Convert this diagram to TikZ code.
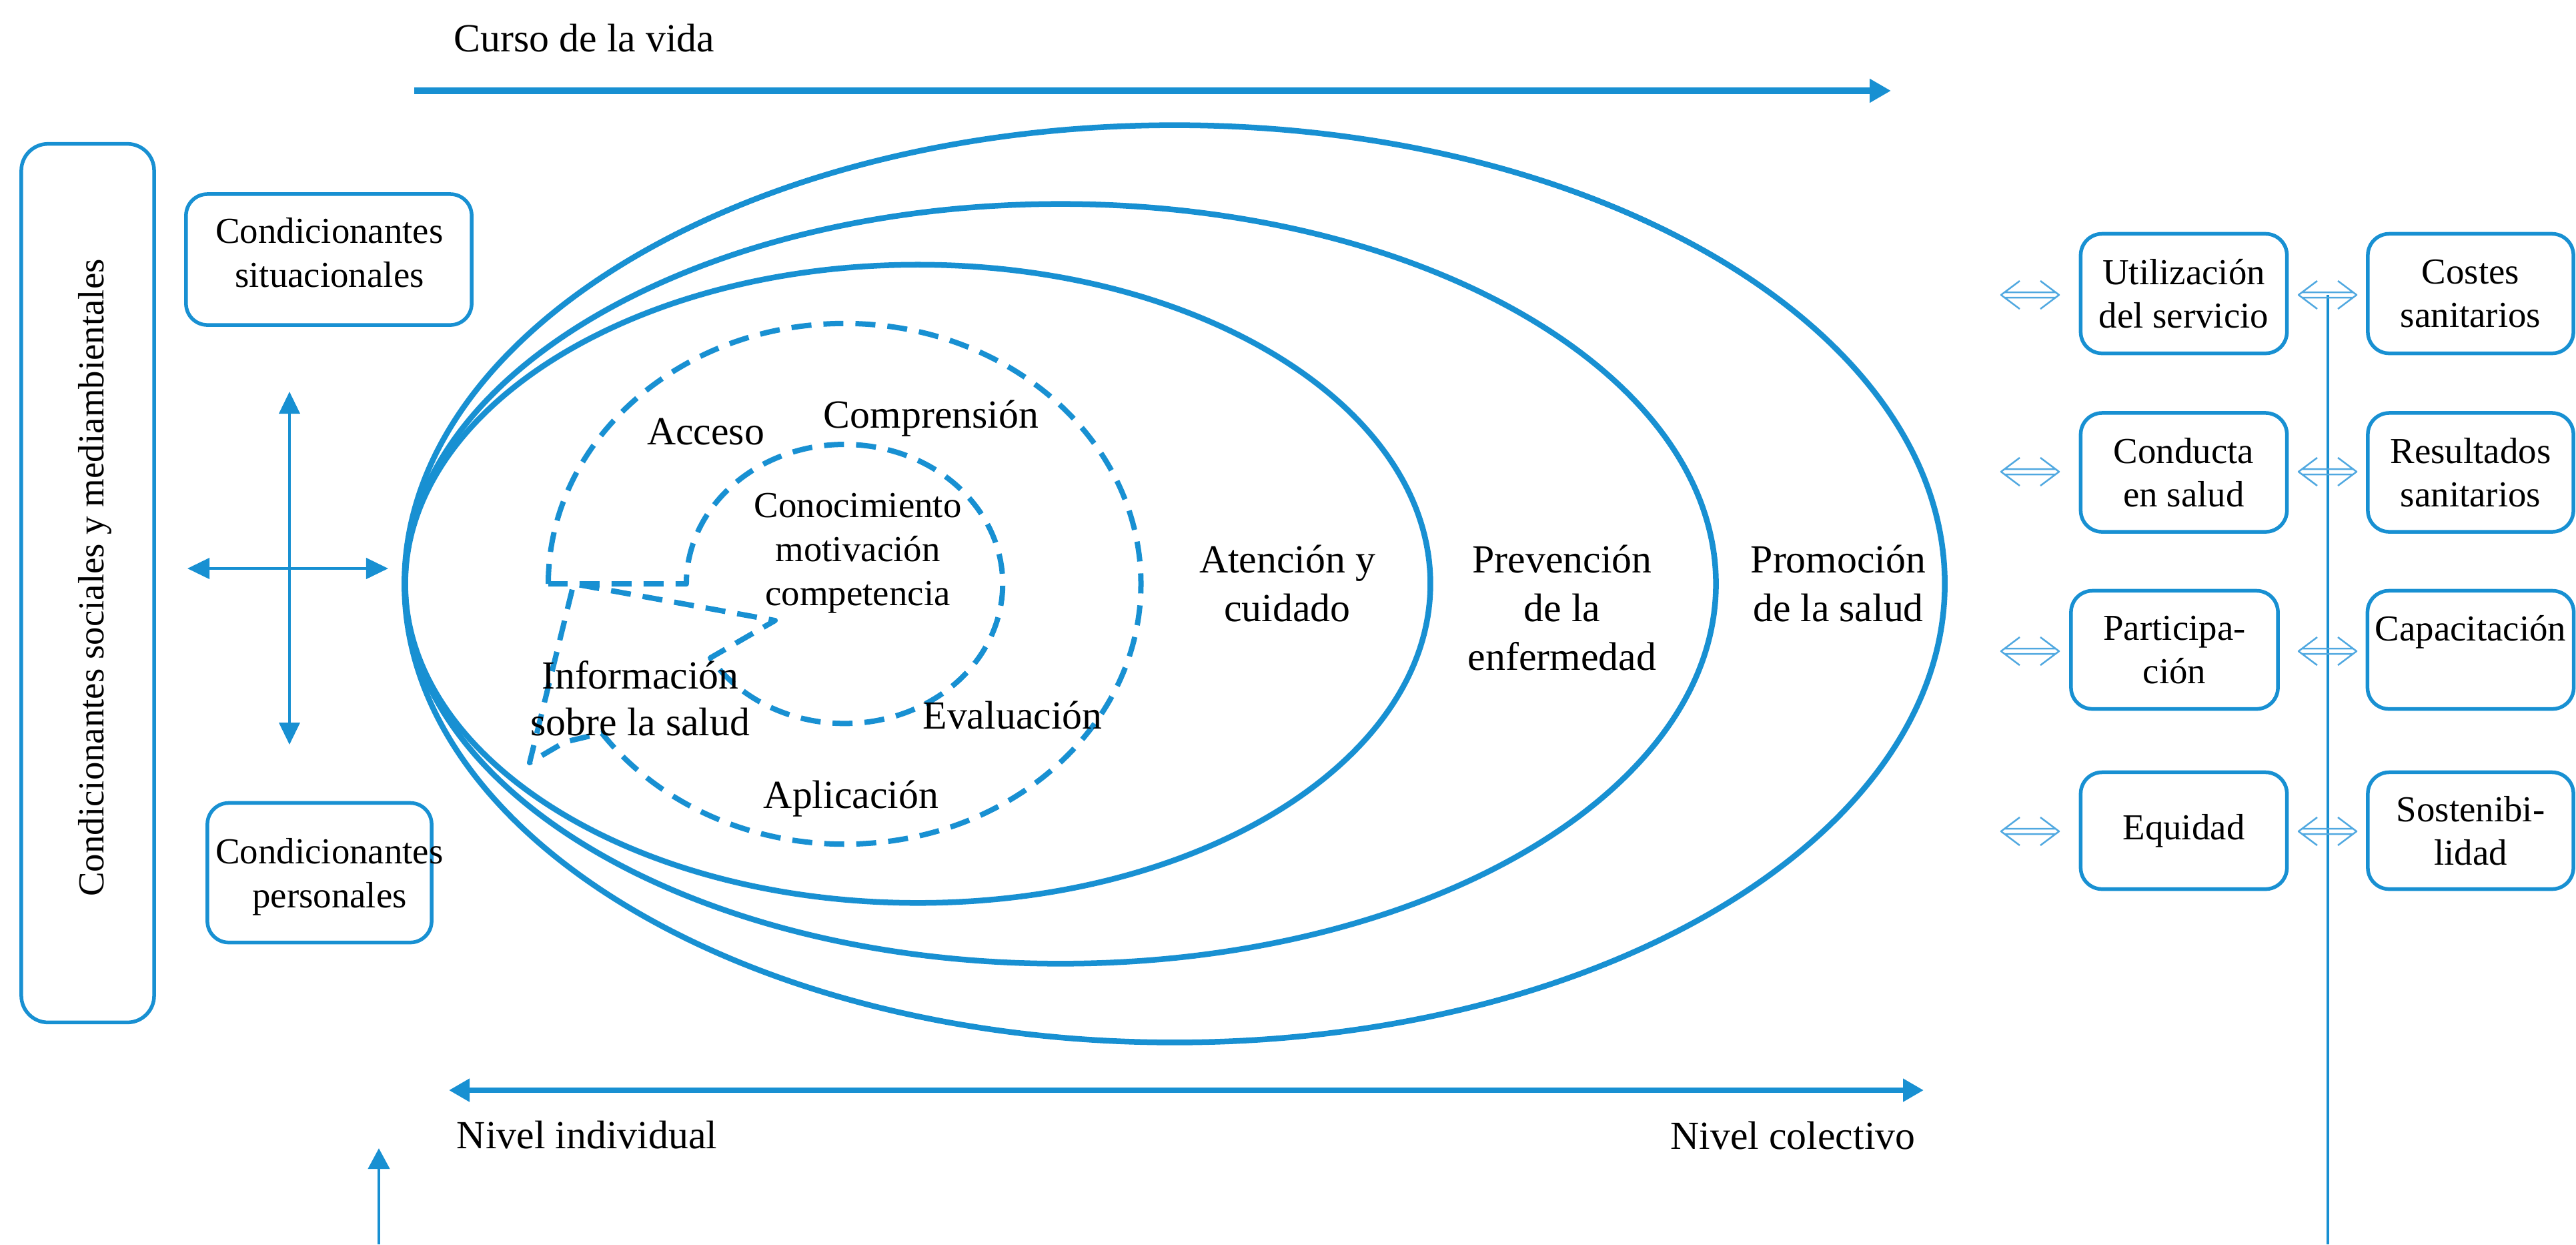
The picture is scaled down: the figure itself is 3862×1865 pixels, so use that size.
\documentclass[tikz,border=0pt]{standalone}
\usepackage{fontspec}
\setmainfont{Liberation Serif}
\usetikzlibrary{arrows.meta}
\definecolor{cblue}{RGB}{24,144,210}
\definecolor{clight}{RGB}{80,168,224}
\newcommand\fA{\fontsize{17pt}{20.8pt}\selectfont}
\newcommand\fAi{\fontsize{17pt}{19.9pt}\selectfont}
\newcommand\fB{\fontsize{15.6pt}{18.6pt}\selectfont}
\newcommand\fC{\fontsize{15.6pt}{18.8pt}\selectfont}
\tikzset{
  lbl/.style={inner sep=0pt, text=black, font=\fA},
  lblB/.style={inner sep=0pt, text=black, font=\fB},
  rbox/.style={draw=cblue, line width=0.055cm, rounded corners=0.32cm, inner sep=0pt, align=center, font=\fB, text=black},
  ell/.style={draw=cblue, line width=0.085cm},
  dsh/.style={draw=cblue, line width=0.08cm, dash pattern=on 0.3cm off 0.18cm},
  bigarr/.style={draw=cblue, line width=0.095cm, -{Triangle[length=0.32cm,width=0.34cm]}},
  bigdarr/.style={draw=cblue, line width=0.085cm, {Triangle[length=0.31cm,width=0.33cm]}-{Triangle[length=0.31cm,width=0.33cm]}},
  thinarr/.style={draw=cblue, line width=0.04cm, {Triangle[length=0.33cm,width=0.31cm]}-{Triangle[length=0.33cm,width=0.31cm]}},
  thinarrone/.style={draw=cblue, line width=0.045cm, -{Triangle[length=0.31cm,width=0.32cm]}},
  harrow/.style={draw=clight, line width=0.025cm},
  dblarr/.pic={\draw[harrow] (28,-21) -- (0,0) -- (28,21) (59,-21) -- (87,0) -- (59,21) (5,-4) -- (82,-4) (5,4) -- (82,4);}
}
\begin{document}
\begin{tikzpicture}[x=0.01cm, y=-0.01cm, line join=round]
\useasboundingbox (0,0) rectangle (3862,1865);

% left column
\node[rbox, minimum width=1.99cm, minimum height=13.16cm, rounded corners=0.4cm] (soc) at (131.5,874) {};
\node[lblB, rotate=90, anchor=base] (soct) at (156,866) {Condicionantes sociales y mediambientales};
\node[rbox, minimum width=4.28cm, minimum height=1.96cm] (sit) at (493,389) {};
\node[lblB, align=center, anchor=north] (sitt) at (494,326) {Condicionantes\\situacionales};
\node[rbox, minimum width=3.36cm, minimum height=2.09cm] (per) at (479,1308) {};
\node[lblB, align=center, anchor=north] (pert) at (494,1256) {Condicionantes\\personales};

\coordinate (cu) at (434,587);
\coordinate (cd) at (434,1116);
\coordinate (cl) at (281,852);
\coordinate (cr) at (582,852);
\draw[thinarr] (cu) -- (cd);
\draw[thinarr] (cl) -- (cr);

% top arrow
\node[lbl, anchor=base] (curso) at (876,77) {Curso de la vida};
\coordinate (ta) at (621,136);
\coordinate (tb) at (2835,136);
\draw[bigarr] (ta) -- (tb);

% bottom arrow
\coordinate (ba) at (673,1634);
\coordinate (bb) at (2884,1634);
\draw[bigdarr] (ba) -- (bb);
\node[lbl, anchor=base] (nind) at (880,1721) {Nivel individual};
\node[lbl, anchor=base] (ncol) at (2688,1722) {Nivel colectivo};

\coordinate (sa) at (568,1865);
\coordinate (sb) at (568,1721);
\draw[thinarrone] (sa) -- (sb);

% ellipses
\draw[ell] (1761,875) ellipse [x radius=11.54cm, y radius=6.87cm];
\draw[ell] (1590,875) ellipse [x radius=9.82cm, y radius=5.69cm];
\draw[ell] (1376,875) ellipse [x radius=7.68cm, y radius=4.78cm];

\node[lbl, align=center, anchor=north] (aten) at (1930,816) {Atención y\\cuidado};
\node[lbl, align=center, anchor=north] (prev) at (2342,816) {Prevención\\de la\\enfermedad};
\node[lbl, align=center, anchor=north] (prom) at (2756,816) {Promoción\\de la salud};

% dashed spiral
\draw[dsh] (822,875) arc[start angle=180, end angle=-145, x radius=4.44cm, y radius=3.90cm]
  -- (847,1112) -- (794,1143) -- (860,875) -- (1162,930) -- (1065,986)
  arc[start angle=-148, end angle=180, x radius=2.37cm, y radius=2.09cm] -- cycle;

\node[lbl, anchor=base] (acc) at (1058,666) {Acceso};
\node[lbl, anchor=base] (comp) at (1396,641) {Comprensión};
\node[inner sep=0pt, font=\fC, align=center, anchor=north] (cono) at (1286,738) {Conocimiento\\motivación\\competencia};
\node[inner sep=0pt, font=\fAi, align=center, anchor=north] (info) at (960,990) {Información\\sobre la salud};
\node[lbl, anchor=base] (eval) at (1518,1092) {Evaluación};
\node[lbl, anchor=base] (apl) at (1276,1211) {Aplicación};

% right side
\coordinate (vt) at (3490,442);
\coordinate (vb) at (3490,1865);
\draw[draw=cblue, line width=0.045cm] (vt) -- (vb);

\node[rbox, minimum width=3.09cm, minimum height=1.79cm] (util) at (3274,440) {Utilización\\del servicio};
\node[rbox, minimum width=3.08cm, minimum height=1.79cm] (cost) at (3704,440) {Costes\\sanitarios};
\node[rbox, minimum width=3.09cm, minimum height=1.78cm] (cond) at (3274,708) {Conducta\\en salud};
\node[rbox, minimum width=3.08cm, minimum height=1.78cm] (res) at (3704,708) {Resultados\\sanitarios};
\node[rbox, minimum width=3.10cm, minimum height=1.77cm] (part) at (3260,974) {Participa-\\ción};
\node[rbox, minimum width=3.09cm, minimum height=1.77cm] (capa) at (3704,974) {Capacitación\\\mbox{}};
\node[rbox, minimum width=3.09cm, minimum height=1.75cm] (equi) at (3274,1245) {Equidad};
\node[rbox, minimum width=3.08cm, minimum height=1.75cm] (sost) at (3704,1245) {Sostenibi-\\lidad};

\foreach \yy in {442,707,976,1246} {
  \pic at (3000,\yy) {dblarr};
  \pic at (3446,\yy) {dblarr};
}
\end{tikzpicture}
\end{document}
